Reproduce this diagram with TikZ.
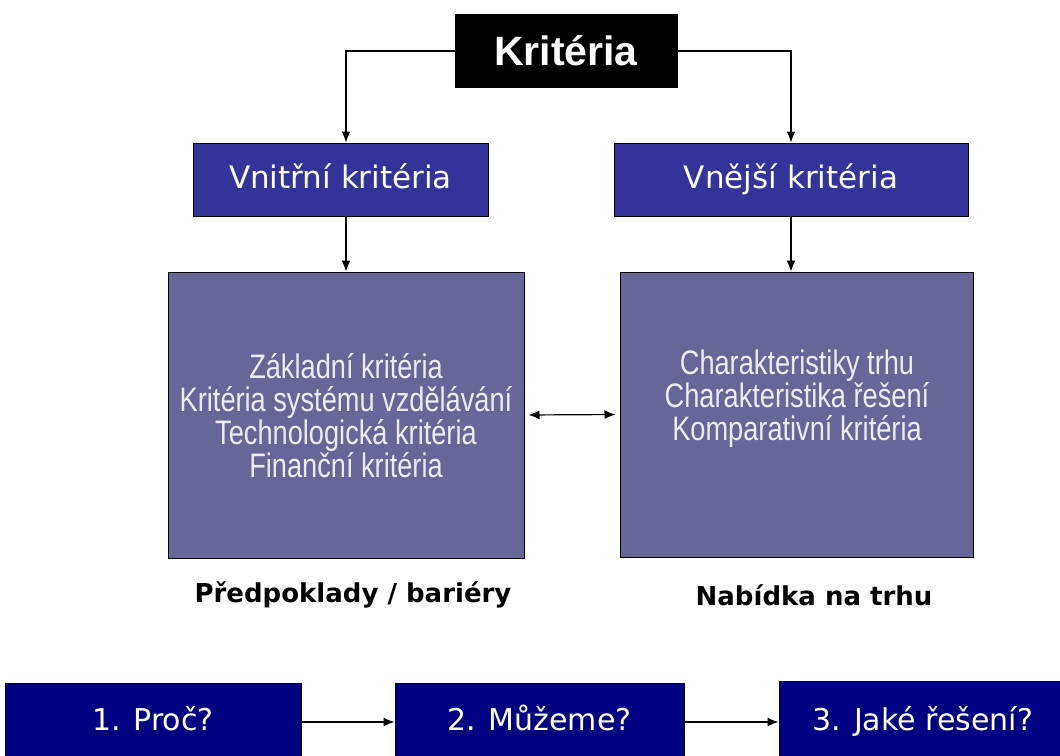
\documentclass[tikz,border=0pt]{standalone}
\usepackage{fontspec}
\setmainfont{DejaVu Sans}
\newfontfamily\arialfont{Liberation Sans}
\newfontfamily\narrowfont[FakeStretch=0.8]{Liberation Sans}
\usetikzlibrary{arrows.meta}

\definecolor{hlavni}{HTML}{333399}
\definecolor{obsah}{HTML}{666699}
\definecolor{otazka}{HTML}{000080}
\definecolor{svetla}{HTML}{ECECF2}

\begin{document}
\begin{tikzpicture}[x=1pt, y=-1pt, >={Latex[length=11pt,width=9pt]},
	skupina/.style={draw=black, line width=1pt, fill=hlavni, text=white, minimum height=73pt, text height=23pt, text depth=6pt, font=\fontsize{31}{37}\selectfont},
	seznam/.style={draw=black, line width=1pt, fill=obsah},
	polozky/.style={text=svetla, align=center, font=\narrowfont\fontsize{34}{33}\selectfont},
	otazka/.style={draw=black, line width=1pt, fill=otazka, text=white, text height=22pt, text depth=6pt, font=\fontsize{30}{36}\selectfont},
	popis/.style={font=\bfseries\fontsize{26}{31}\selectfont}]
	\useasboundingbox (0,0) rectangle (1060,755);
	
	% Top box
	\node[fill=black, draw=black, text=white, minimum width=222pt, minimum height=73pt, font=\arialfont\bfseries\fontsize{41}{48}\selectfont] (krit) at (566,51) {Kritéria};
	
	% Two groups of criteria
	\node[skupina, minimum width=295pt] (vnitrni) at (340.5,179.5) {Vnitřní kritéria};
	\node[skupina, minimum width=354pt] (vnejsi) at (791,179.5) {Vnější kritéria};
	
	% Boxes with the lists
	\node[seznam, minimum width=356pt, minimum height=286pt] (vnitrnibox) at (346,415) {};
	\node[seznam, minimum width=353pt, minimum height=285pt] (vnejsibox) at (796.5,414.5) {};
	\node[polozky] (vnitrnitext) at (346,416) {Základní kritéria\\Kritéria systému vzdělávání\\Technologická kritéria\\Finanční kritéria};
	\node[polozky] (vnejsitext) at (797,399) {Charakteristiky trhu\\Charakteristika řešení\\Komparativní kritéria};
	
	% Captions
	\node[popis] (predpoklady) at (353,595) {Předpoklady / bariéry};
	\node[popis] (nabidka) at (814,595) {Nabídka na trhu};
	
	% Questions
	\node[otazka, minimum width=296pt, minimum height=78pt] (proc) at (153,722) {1. Proč?};
	\node[otazka, minimum width=289pt, minimum height=78pt] (muzeme) at (539.5,722) {2. Můžeme?};
	\node[otazka, minimum width=288pt, minimum height=82pt] (reseni) at (923,722) {3. Jaké řešení?};
	
	% Connectors
	\draw[->, line width=1.2pt] (krit.west) -| (vnitrni.north -| vnitrnibox.north);
	\draw[->, line width=1.2pt] (krit.east) -| (vnejsi.north);
	\draw[->, line width=1.2pt] (vnitrni.south -| vnitrnibox.north) -- (vnitrnibox.north);
	\draw[->, line width=1.2pt] (vnejsi.south) -- (vnejsibox.north -| vnejsi.south);
	\draw[<->, line width=1.2pt, shorten <=4pt, shorten >=4pt] (vnitrnibox.east) -- (vnejsibox.west);
	\draw[->, line width=1.2pt] (proc.east) -- (muzeme.west);
	\draw[->, line width=1.2pt] (muzeme.east) -- (reseni.west);
\end{tikzpicture}
\end{document}
